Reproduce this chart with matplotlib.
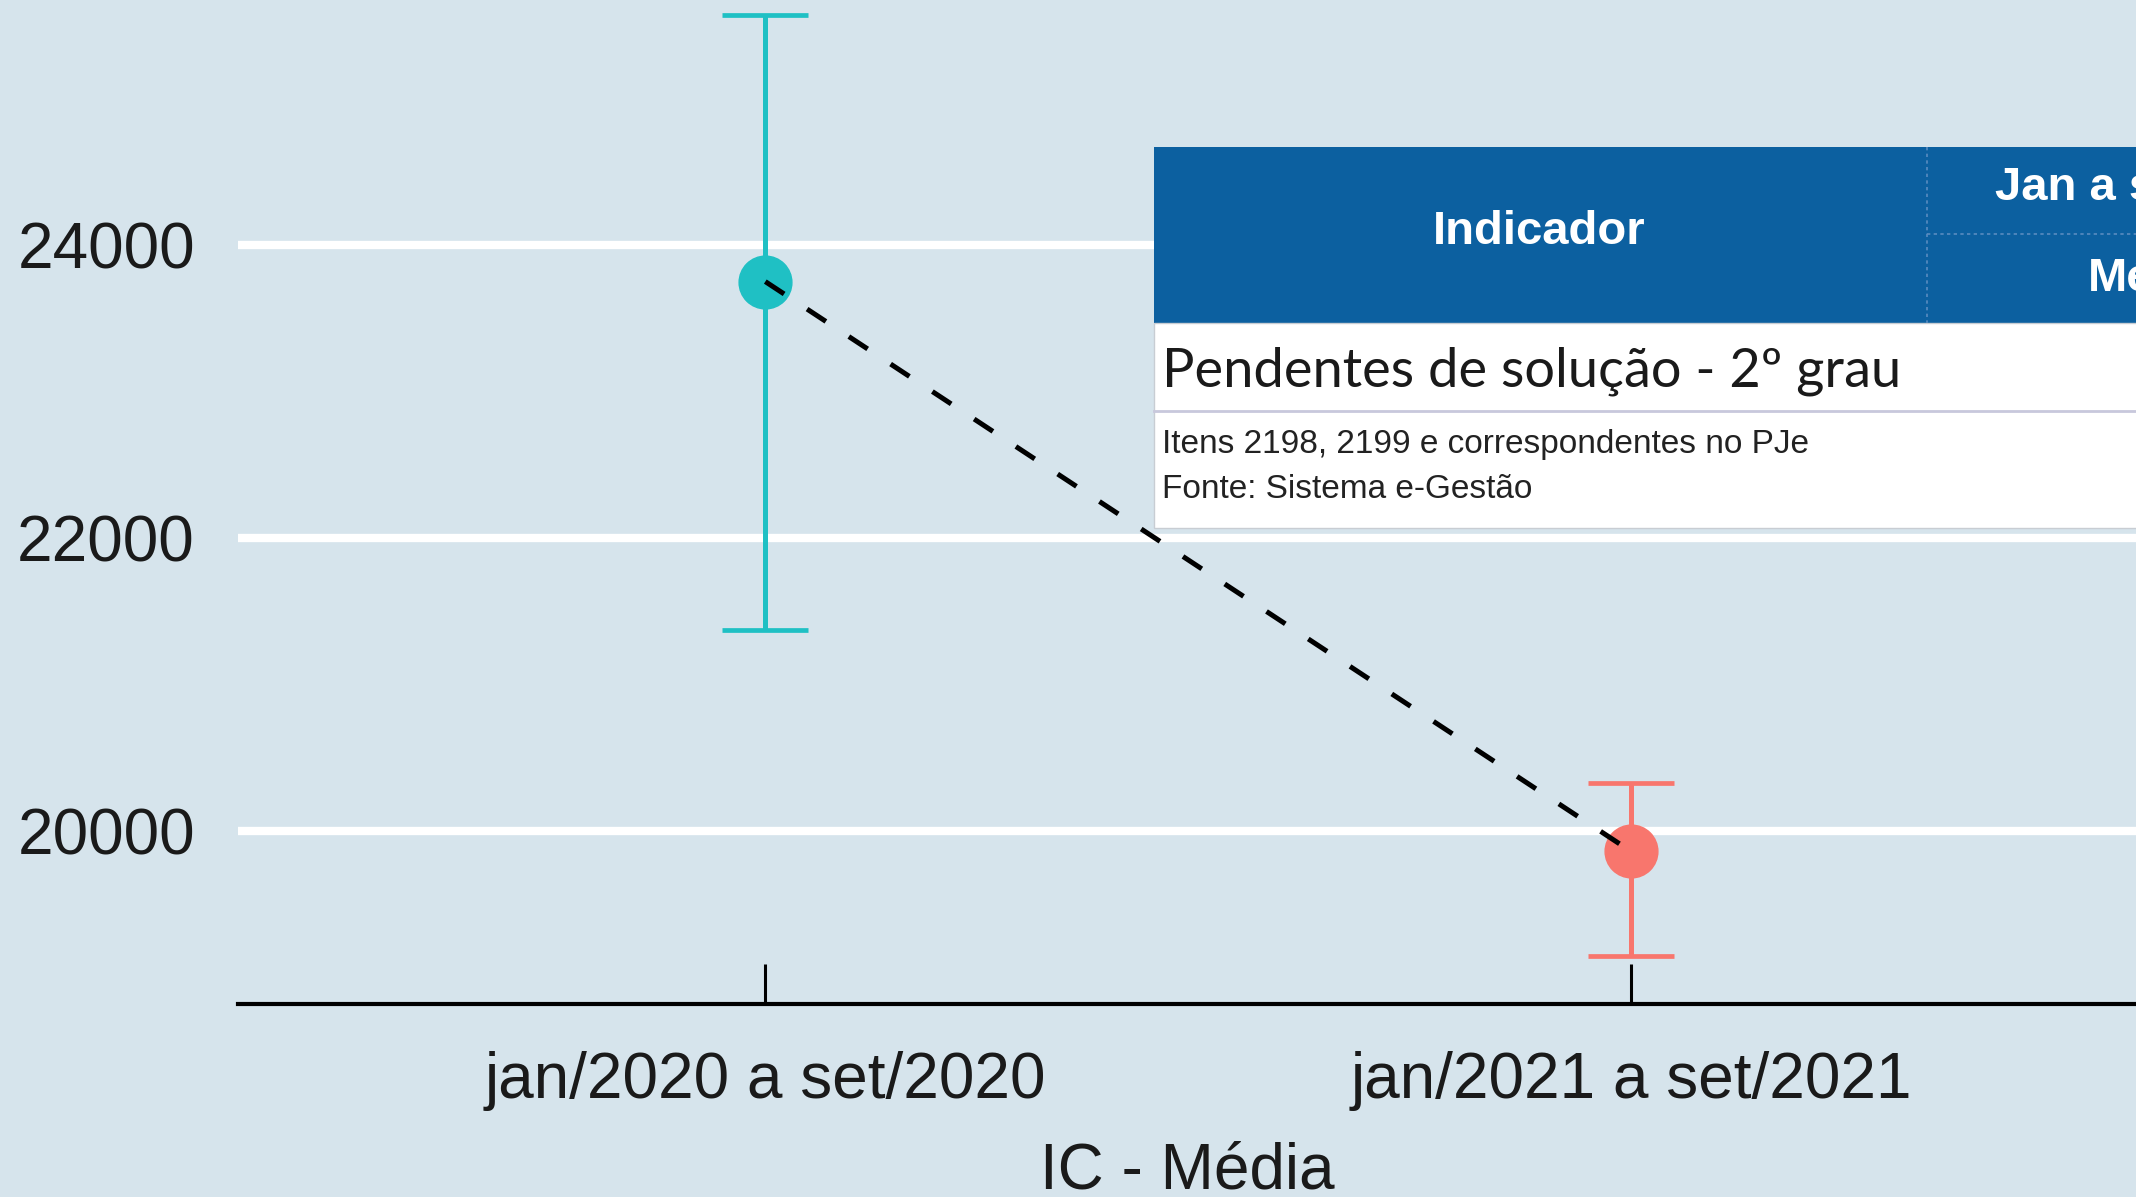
import matplotlib
matplotlib.use('Agg')
import matplotlib.pyplot as plt
from matplotlib.patches import Rectangle
from matplotlib import font_manager

periodos = ['jan/2020 a set/2020', 'jan/2021 a set/2021']
medias = [23750, 19860]
ic_inf = [21370, 19150]
ic_sup = [25570, 20330]
cores = ['#1FC0C4', '#F8766D']
yticks = [20000, 22000, 24000]

BG = '#d6e4ec'
AZUL = '#0c60a0'

nomes = {f.name for f in font_manager.fontManager.ttflist}
TEM_NARROW = 'Liberation Sans Narrow' in nomes
NARROW = 'Liberation Sans Narrow' if TEM_NARROW else 'Liberation Sans'
HDR = 40 if TEM_NARROW else 34
PEQ = 26 if TEM_NARROW else 24
plt.rcParams['font.family'] = ['Liberation Sans', 'DejaVu Sans']

fig = plt.figure(figsize=(21.36, 11.97), dpi=100)
fig.patch.set_facecolor(BG)
ax = fig.add_axes([238/2136, 1 - 1004/1197, 1 - 238/2136, 1004/1197])
ax.set_facecolor(BG)

x = [1, 2]
for i in range(2):
    ax.errorbar(x[i], medias[i],
                yerr=[[medias[i] - ic_inf[i]], [ic_sup[i] - medias[i]]],
                fmt='o', color=cores[i], ms=38, elinewidth=3.6,
                capsize=31, capthick=3.4, zorder=3)
ln, = ax.plot(x, medias, color='black', lw=3.6, zorder=4)
ln.set_dashes((4.5, 5.5))

ax.set_xlim(0.391, 2.583)
ax.set_ylim(18819, 25672)
ax.set_xticks(x)
ax.set_xticklabels(periodos, color='#1a1a1a')
ax.set_yticks(yticks)
ax.tick_params(axis='x', direction='in', length=29, width=2.2, labelsize=46, pad=34)
ax.tick_params(axis='y', length=0, labelsize=46, pad=31, labelcolor='#1a1a1a')
ax.grid(axis='y', color='white', lw=6)
ax.set_axisbelow(True)
for s in ['top', 'right', 'left']:
    ax.spines[s].set_visible(False)
ax.spines['bottom'].set_linewidth(3)
ax.set_xlabel('IC - Média', fontsize=46, labelpad=22, color='#1a1a1a')

# tabela sobreposta
ov = fig.add_axes([0, 0, 1, 1])
ov.set_xlim(0, 2136)
ov.set_ylim(1197, 0)
ov.axis('off')
ov.patch.set_alpha(0)
ov.add_patch(Rectangle((1154, 147), 1000, 176, facecolor=AZUL, edgecolor='none'))
ov.add_patch(Rectangle((1154, 323), 1000, 205, facecolor='white', edgecolor='#c8cdd3', lw=1))
ov.plot([1927, 1927], [147, 323], color='#5a8cc0', lw=1.2, ls=(0, (2, 2)))
ov.plot([1927, 2136], [234, 234], color='#5a8cc0', lw=1.2, ls=(0, (2, 2)))
ov.plot([1154, 2136], [411, 411], color='#c8c8dc', lw=2)
ov.text(1539, 232, 'Indicador', color='white', fontsize=HDR, fontweight='bold',
        family=NARROW, ha='center', va='center')
ov.text(1995, 188, 'Jan a set', color='white', fontsize=HDR, fontweight='bold',
        family=NARROW, ha='left', va='center')
ov.text(2088, 279, 'Média', color='white', fontsize=HDR, fontweight='bold',
        family=NARROW, ha='left', va='center')
ov.text(1162, 371, 'Pendentes de solução - 2º grau', color='#1a1a1a', fontsize=39,
        family=['Lato', 'DejaVu Sans'], ha='left', va='center')
ov.text(1162, 445, 'Itens 2198, 2199 e correspondentes no PJe', color='#222222',
        fontsize=PEQ, family=NARROW, ha='left', va='center')
ov.text(1162, 490, 'Fonte: Sistema e-Gestão', color='#222222',
        fontsize=PEQ, family=NARROW, ha='left', va='center')

fig.savefig('out.png', dpi=100, facecolor=BG)
